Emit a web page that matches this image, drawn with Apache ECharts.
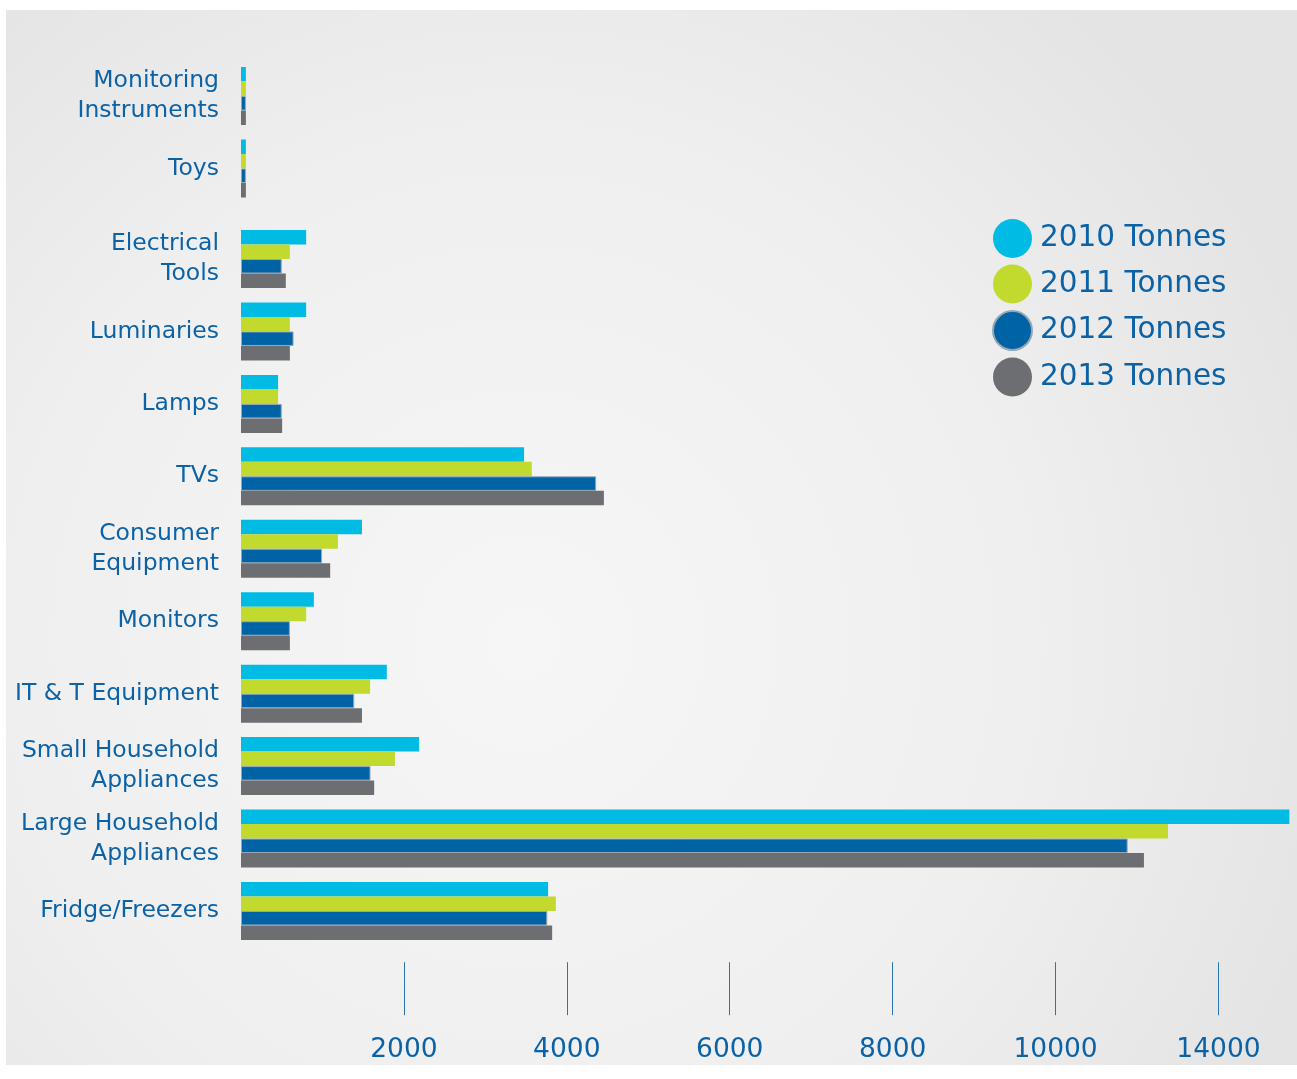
<!DOCTYPE html>
<html>
<head>
<meta charset="utf-8">
<script src="https://cdn.jsdelivr.net/npm/echarts@6/dist/echarts.min.js"></script>
<style>
html,body{margin:0;padding:0;background:#ffffff;}
#chart{width:1297px;height:1079px;}
</style>
</head>
<body>
<div id="chart"></div>
<script>
// ---- data ----
const categories = ['Monitoring\nInstruments','Toys','Electrical\nTools','Luminaries','Lamps','TVs','Consumer\nEquipment','Monitors','IT & T Equipment','Small Household\nAppliances','Large Household\nAppliances','Fridge/Freezers'];
const years = ['2010 Tonnes','2011 Tonnes','2012 Tonnes','2013 Tonnes'];
const t2010 = [60, 60, 800, 800, 455, 3475, 1485, 895, 1790, 2185, 12870, 3770];
const t2011 = [60, 60, 600, 600, 455, 3570, 1190, 800, 1585, 1890, 11380, 3865];
const t2012 = [60, 60, 500, 645, 500, 4360, 995, 600, 1390, 1590, 10885, 3760];
const t2013 = [60, 60, 550, 600, 505, 4455, 1095, 600, 1485, 1635, 11085, 3820];
const tickValues = [2000, 4000, 6000, 8000, 10000, 12000];
const tickLabels = ['2000', '4000', '6000', '8000', '10000', '14000'];
const axisMax = 12964;
const topCount = 2; // first two categories sit in a separate upper block

// ---- styling ----
const textBlue = '#0c62a6';
const colors = ['#00bbe4', '#c2d92e', '#0063a6', '#6d6e72'];
const FONT = 'DejaVu Sans';
const yearData = [t2010, t2011, t2012, t2013];

const chart = echarts.init(document.getElementById('chart'), null, {renderer: 'canvas'});

function yAxisFor(gridIndex, cats, pad) {
  return {
    type: 'category', gridIndex: gridIndex, data: cats, inverse: true,
    axisLine: {show: false}, axisTick: {show: false}, splitLine: {show: false},
    axisLabel: {
      color: textBlue, fontFamily: FONT, fontSize: 23.5, lineHeight: 30,
      margin: 22, align: 'right', padding: pad
    }
  };
}

const series = [];
[0, 1].forEach(function (g) {
  years.forEach(function (name, i) {
    const vals = g === 0 ? yearData[i].slice(0, topCount) : yearData[i].slice(topCount);
    const s = {
      name: name, type: 'bar', xAxisIndex: g, yAxisIndex: g, data: vals,
      barCategoryGap: '20%', barGap: '0%',
      itemStyle: {color: colors[i]},
      emphasis: {disabled: true}
    };
    if (i === 2) { s.itemStyle.borderColor = '#95a6b5'; s.itemStyle.borderWidth = 1; }
    series.push(s);
  });
});

const option = {
  animation: false,
  backgroundColor: '#ffffff',
  graphic: [{
    type: 'rect', z: -100, silent: true,
    shape: {x: 6, y: 10, width: 1291, height: 1055},
    style: {
      fill: {
        type: 'radial', x: 0.4, y: 0.6, r: 0.8,
        colorStops: [{offset: 0, color: '#f6f6f6'}, {offset: 0.6, color: '#efefef'}, {offset: 1, color: '#e4e4e4'}]
      }
    }
  }],
  legend: {
    orient: 'vertical', left: 992, top: 219, padding: 0, itemWidth: 39, itemHeight: 39, itemGap: 6.5,
    icon: 'circle', data: years, selectedMode: false,
    textStyle: {color: textBlue, fontFamily: FONT, fontSize: 29.5, padding: [0, 0, 0, 3]}
  },
  grid: [
    {left: 241, top: 59.75, right: 0, height: 145, containLabel: false},
    {left: 241, top: 222.8, right: 0, height: 724.4, containLabel: false}
  ],
  xAxis: [
    {type: 'value', gridIndex: 0, min: 0, max: axisMax, show: false},
    {
      type: 'value', gridIndex: 1, min: 0, max: axisMax, interval: 2000,
      position: 'bottom', offset: 15,
      axisLine: {show: false}, splitLine: {show: false},
      axisTick: {show: true, length: 53, inside: false, customValues: tickValues,
                 lineStyle: {color: '#2a74b4', width: 1}},
      axisLabel: {
        customValues: tickValues, margin: 74,
        color: textBlue, fontFamily: FONT, fontSize: 26.5,
        formatter: function (v) { const k = tickValues.indexOf(v); return k >= 0 ? tickLabels[k] : ''; }
      }
    }
  ],
  yAxis: [yAxisFor(0, categories.slice(0, topCount), 0), yAxisFor(1, categories.slice(topCount), [5, 0, 0, 0])],
  series: series
};
chart.setOption(option);
</script>
</body>
</html>
